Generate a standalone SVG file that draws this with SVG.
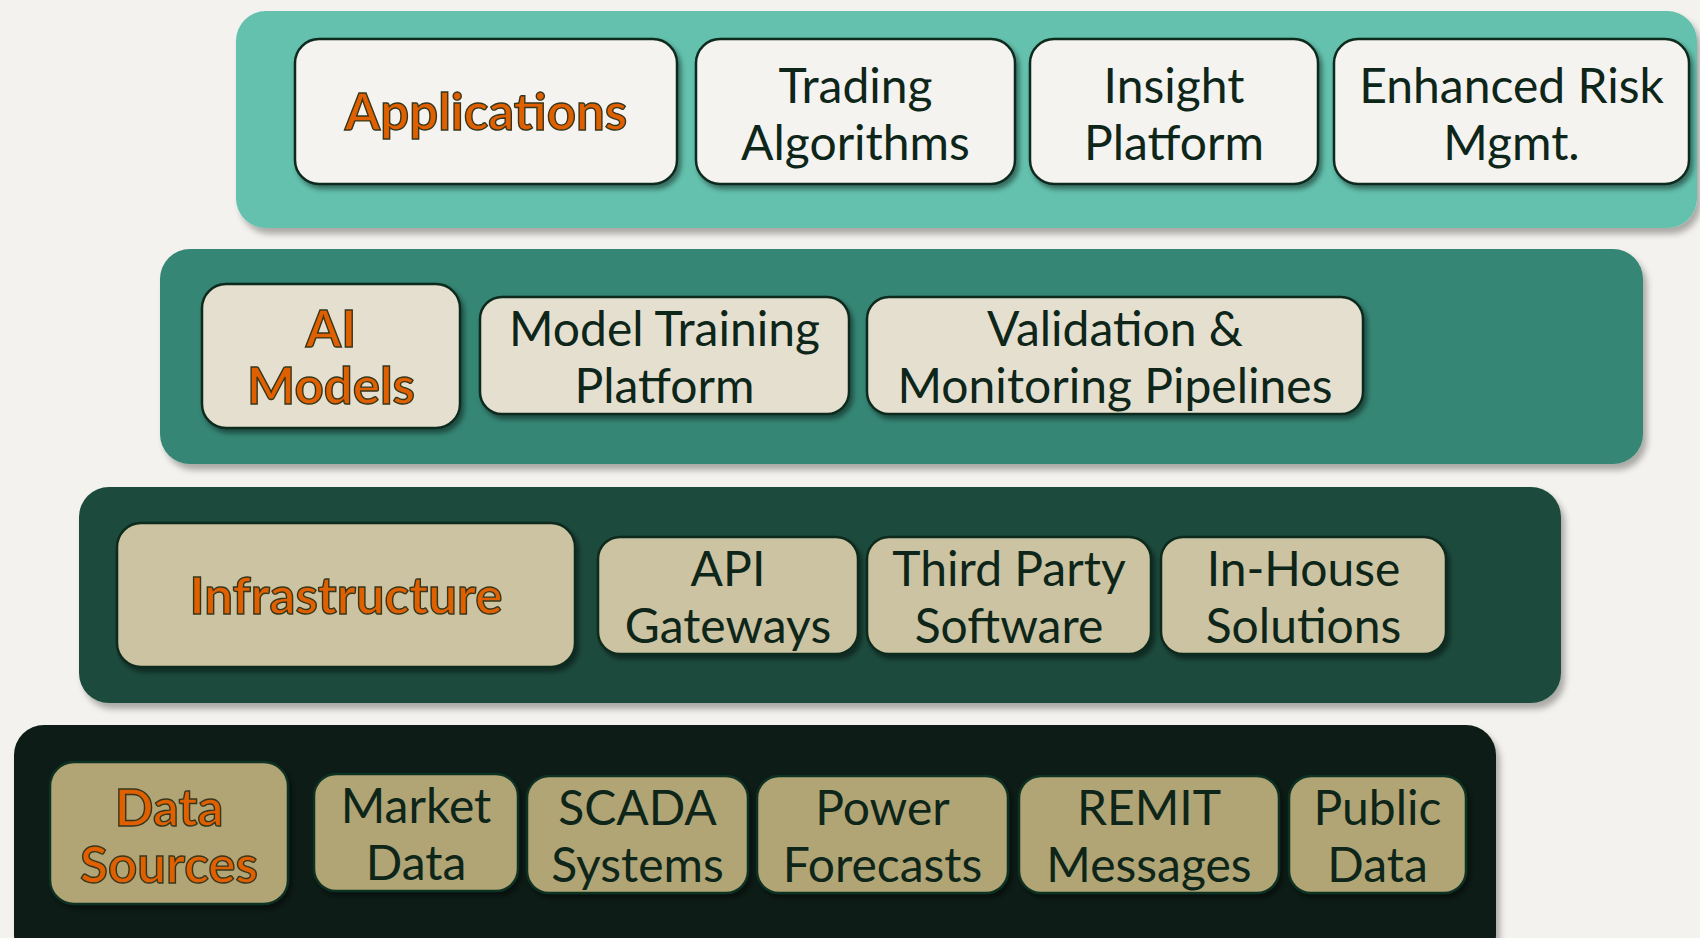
<svg xmlns="http://www.w3.org/2000/svg" width="1700" height="938" viewBox="0 0 1700 938">
<style>
.t{font-family:Lato,"Open Sans","Liberation Sans",sans-serif;font-size:48px;fill:#0E2619;text-anchor:middle}
.h{font-family:Lato,"Open Sans","Liberation Sans",sans-serif;font-size:51px;font-weight:bold;fill:#E06000;stroke:#36361C;stroke-width:1.4;text-anchor:middle}
.b{stroke:#0B2A1D;stroke-width:2.5}
.b1{fill:#F4F3EF}.b2{fill:#E4DFCF}.b3{fill:#CBC3A1}.b4{fill:#B1A475;stroke:#0E3024}
</style>
<defs>
<filter id="ps" x="-5%" y="-10%" width="110%" height="125%"><feDropShadow dx="4" dy="6" stdDeviation="3" flood-color="#000" flood-opacity="0.3"/></filter>
<filter id="bs" x="-5%" y="-10%" width="115%" height="125%"><feDropShadow dx="3" dy="4" stdDeviation="2.5" flood-color="#000" flood-opacity="0.45"/></filter>
</defs>
<rect width="1700" height="938" fill="#F3F2EE"/>
<g id="layer-apps">
<rect x="236" y="11" width="1461" height="217" rx="30" fill="#63C1AD" filter="url(#ps)"/>
</g>
<g id="layer-ai">
<rect x="160" y="249" width="1483" height="215" rx="30" fill="#358674" filter="url(#ps)"/>
</g>
<g id="layer-infra">
<rect x="79" y="487" width="1482" height="216" rx="30" fill="#1B4C3D" filter="url(#ps)"/>
</g>
<g id="layer-data">
<rect x="14" y="725" width="1482" height="240" rx="30" fill="#0A1E12" filter="url(#ps)"/>
</g>
<g id="connectors"></g>
<g id="applications"><rect class="b b1" x="295" y="39" width="382" height="145" rx="24" filter="url(#bs)"/><text class="h" x="486" y="130">Applications</text></g>
<g id="trading-algorithms"><rect class="b b1" x="696" y="39" width="319" height="145" rx="24" filter="url(#bs)"/><text class="t" x="855.5" y="103">Trading</text><text class="t" x="855.5" y="160">Algorithms</text></g>
<g id="insight-platform"><rect class="b b1" x="1030" y="39" width="288" height="145" rx="24" filter="url(#bs)"/><text class="t" x="1174" y="103">Insight</text><text class="t" x="1174" y="160">Platform</text></g>
<g id="enhanced-risk"><rect class="b b1" x="1334" y="39" width="355" height="145" rx="24" filter="url(#bs)"/><text class="t" x="1511.5" y="103">Enhanced Risk</text><text class="t" x="1511.5" y="160">Mgmt.</text></g>
<g id="ai-models"><rect class="b b2" x="202" y="284" width="258" height="144" rx="24" filter="url(#bs)"/><text class="h" x="331" y="347">AI</text><text class="h" x="331" y="404">Models</text></g>
<g id="model-training"><rect class="b b2" x="480" y="297" width="369" height="117" rx="22" filter="url(#bs)"/><text class="t" x="664.5" y="346">Model Training</text><text class="t" x="664.5" y="403">Platform</text></g>
<g id="validation"><rect class="b b2" x="867" y="297" width="496" height="117" rx="22" filter="url(#bs)"/><text class="t" x="1115" y="346">Validation &amp;</text><text class="t" x="1115" y="403">Monitoring Pipelines</text></g>
<g id="infrastructure"><rect class="b b3" x="117" y="523" width="458" height="144" rx="24" filter="url(#bs)"/><text class="h" x="346" y="614">Infrastructure</text></g>
<g id="api-gateways"><rect class="b b3" x="598" y="537" width="260" height="117" rx="22" filter="url(#bs)"/><text class="t" x="728" y="586">API</text><text class="t" x="728" y="643">Gateways</text></g>
<g id="third-party"><rect class="b b3" x="867" y="537" width="284" height="117" rx="22" filter="url(#bs)"/><text class="t" x="1009" y="586">Third Party</text><text class="t" x="1009" y="643">Software</text></g>
<g id="in-house"><rect class="b b3" x="1161" y="537" width="285" height="117" rx="22" filter="url(#bs)"/><text class="t" x="1303.5" y="586">In-House</text><text class="t" x="1303.5" y="643">Solutions</text></g>
<g id="data-sources"><rect class="b b4" x="50" y="762" width="238" height="142" rx="24" filter="url(#bs)"/><text class="h" x="169" y="826">Data</text><text class="h" x="169" y="883">Sources</text></g>
<g id="market-data"><rect class="b b4" x="314" y="774" width="204" height="117" rx="22" filter="url(#bs)"/><text class="t" x="416" y="823">Market</text><text class="t" x="416" y="880">Data</text></g>
<g id="scada"><rect class="b b4" x="527" y="776" width="221" height="117" rx="22" filter="url(#bs)"/><text class="t" x="637.5" y="825">SCADA</text><text class="t" x="637.5" y="882">Systems</text></g>
<g id="power-forecasts"><rect class="b b4" x="757" y="776" width="251" height="117" rx="22" filter="url(#bs)"/><text class="t" x="882.5" y="825">Power</text><text class="t" x="882.5" y="882">Forecasts</text></g>
<g id="remit"><rect class="b b4" x="1019" y="776" width="260" height="117" rx="22" filter="url(#bs)"/><text class="t" x="1149" y="825">REMIT</text><text class="t" x="1149" y="882">Messages</text></g>
<g id="public-data"><rect class="b b4" x="1289" y="776" width="177" height="117" rx="22" filter="url(#bs)"/><text class="t" x="1377.5" y="825">Public</text><text class="t" x="1377.5" y="882">Data</text></g>
</svg>
